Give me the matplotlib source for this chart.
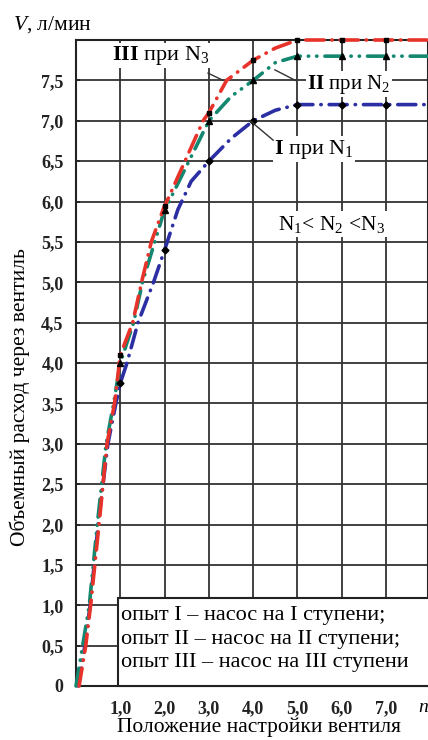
import matplotlib
matplotlib.use('Agg')
import matplotlib.pyplot as plt
from matplotlib.patches import Rectangle

plt.rcParams['font.family'] = ['Liberation Serif', 'DejaVu Serif']
plt.rcParams['mathtext.fontset'] = 'custom'
plt.rcParams['mathtext.rm'] = 'Liberation Serif'
plt.rcParams['mathtext.it'] = 'Liberation Serif:italic'
plt.rcParams['mathtext.bf'] = 'Liberation Serif:bold'

# curves
x_I = [0.05, 0.2, 0.32, 0.5, 0.72, 0.9, 1.0, 1.15, 1.4, 1.75, 2.0, 2.3, 2.6, 3.0, 3.5, 4.0, 4.5, 5.0, 6.0, 7.0, 8.0]
y_I = [0.0, 0.5, 1.0, 2.0, 3.0, 3.5, 3.75, 4.0, 4.5, 5.0, 5.4, 5.9, 6.25, 6.5, 6.78, 7.0, 7.13, 7.2, 7.2, 7.2, 7.2]

x_II = [0.0, 0.15, 0.3, 0.48, 0.68, 0.85, 1.0, 1.3, 1.5, 1.75, 2.0, 2.1, 2.55, 3.0, 3.5, 4.0, 4.5, 5.0, 6.0, 7.0, 8.0]
y_II = [0.0, 0.5, 1.0, 2.0, 3.0, 3.5, 4.0, 4.5, 5.0, 5.45, 5.9, 6.0, 6.5, 7.0, 7.3, 7.5, 7.72, 7.8, 7.8, 7.8, 7.8]

x_III = [0.07, 0.22, 0.33, 0.52, 0.7, 0.87, 1.0, 1.28, 1.48, 1.7, 2.0, 2.05, 2.46, 2.87, 3.0, 3.4, 4.0, 4.5, 5.0, 6.0, 7.0, 8.0]
y_III = [0.0, 0.5, 1.0, 2.0, 3.0, 3.5, 4.1, 4.5, 5.0, 5.5, 5.95, 6.0, 6.5, 7.0, 7.1, 7.5, 7.75, 7.9, 8.0, 8.0, 8.0, 8.0]

# measured points
mark_x = [1, 2, 3, 4, 5, 6, 7]
mark_I = [3.75, 5.4, 6.5, 7.0, 7.2, 7.2, 7.2]
mark_II = [4.0, 5.9, 7.0, 7.5, 7.8, 7.8, 7.8]
mark_III = [4.1, 5.95, 7.1, 7.75, 8.0, 8.0, 8.0]

xticks = [1, 2, 3, 4, 5, 6, 7]
xtick_labels = ['1,0', '2,0', '3,0', '4,0', '5,0', '6,0', '7,0']
yticks = [0, 0.5, 1, 1.5, 2, 2.5, 3, 3.5, 4, 4.5, 5, 5.5, 6, 6.5, 7, 7.5]
ytick_labels = ['0', '0,5', '1,0', '1,5', '2,0', '2,5', '3,0', '3,5', '4,0',
                '4,5', '5,0', '5,5', '6,0', '6,5', '7,0', '7,5']

legend_lines = ['опыт I – насос на I ступени;',
                'опыт II – насос на II ступени;',
                'опыт III – насос на III ступени']

fig = plt.figure(figsize=(4.28, 7.40), dpi=100)
ax = fig.add_axes([76 / 428, 54 / 740, 352 / 428, 646 / 740])
ax.set_xlim(0, 352 / 44.3)
ax.set_ylim(0, 8)

ax.set_xticks(range(0, 8))
ax.set_xticklabels([''] + xtick_labels, fontsize=13, fontweight='bold')
ax.set_yticks(yticks)
ax.set_yticklabels(ytick_labels, fontsize=13, fontweight='bold')
ax.tick_params(direction='in', length=3, width=1.2, pad=9, colors='#222222')
ax.tick_params(axis='x', pad=10)
ax.grid(True, color='#333333', linewidth=1.3)
ax.set_axisbelow(True)
for s in ax.spines.values():
    s.set_linewidth(1.5)
    s.set_color('#222222')

lw = 2.6
ax.plot(x_I, y_I, color='#2c2fa3', lw=lw, dashes=(5, 2.2, 0.1, 2.2),
        dash_capstyle='round', clip_on=False, zorder=3)
ax.plot(x_II, y_II, color='#13876f', lw=lw, dashes=(5, 2.2, 0.1, 2.2, 0.1, 2.2),
        dash_capstyle='round', clip_on=False, zorder=3)
ax.plot(x_III, y_III, color='#e8332b', lw=lw, dashes=(5, 2.2, 0.1, 2.2),
        dash_capstyle='round', clip_on=False, zorder=3)

ax.plot(mark_x, mark_I, 'D', color='black', ms=3.5, ls='none', zorder=4, clip_on=False)
ax.plot(mark_x, mark_II, '^', color='black', ms=4, ls='none', zorder=4, clip_on=False)
ax.plot(mark_x, mark_III, 's', color='black', ms=3.5, ls='none', zorder=4, clip_on=False)

# curve labels with leader lines
box = dict(facecolor='white', edgecolor='none', pad=1)
ax.text(1.92, 7.81, r'$\mathbf{III}$ при N$_3$', fontsize=16, ha='center', va='center',
        bbox=box, zorder=5)
ax.plot([2.98, 3.32], [7.59, 7.50], color='#333333', lw=1, zorder=5)
ax.text(6.16, 7.45, r'$\mathbf{II}$ при N$_2$', fontsize=15, ha='center', va='center',
        bbox=box, zorder=5)
ax.plot([4.49, 4.95], [7.63, 7.5], color='#333333', lw=1, zorder=5)
ax.text(5.37, 6.65, r'$\mathbf{I}$ при N$_1$', fontsize=16, ha='center', va='center',
        bbox=box, zorder=5)
ax.plot([3.93, 4.45], [7.0, 6.76], color='#333333', lw=1, zorder=5)
ax.text(5.76, 5.72, r'N$_1$< N$_2$ <N$_3$', fontsize=15.5, ha='center', va='center',
        bbox=dict(facecolor='white', edgecolor='none', pad=1.5), zorder=5)

# legend box
ax.add_patch(Rectangle((0.95, 0), 7.5, 1.09, facecolor='white', edgecolor='#222222',
                       lw=1.5, zorder=6, clip_on=False))
for i, line in enumerate(legend_lines):
    ax.text(1.02, [0.87, 0.58, 0.29][i], line, fontsize=16, va='center', zorder=7)

fig.text(13 / 428, 1 - 25 / 740, r'$V$, л/мин', fontsize=15.5, va='center')
fig.text(418 / 428, 1 - 707 / 740, r'$n$', fontsize=14, va='center')
ax.set_xlabel('Положение настройки вентиля', fontsize=15.5)
ax.xaxis.set_label_coords(0.521, -0.064)
ax.xaxis.label.set_va('center')
ax.set_ylabel('Объемный расход через вентиль', fontsize=15.5)
ax.yaxis.set_label_coords(-0.16, 0.447)
ax.yaxis.label.set_va('center')

fig.savefig('out.png', dpi=100)
